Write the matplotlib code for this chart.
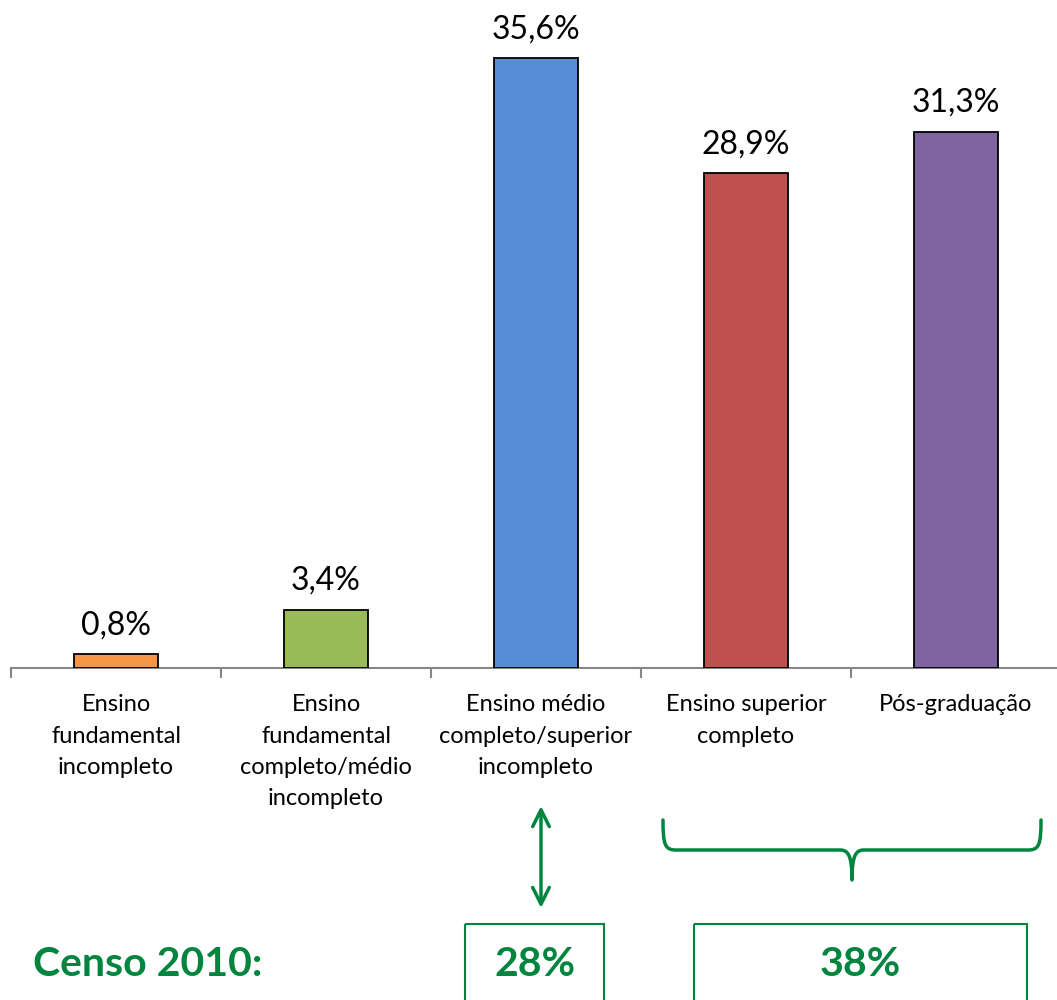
import matplotlib
matplotlib.use("Agg")
import matplotlib.pyplot as plt
from matplotlib.path import Path
from matplotlib.patches import PathPatch, Rectangle, FancyArrowPatch

plt.rcParams['font.family'] = ['Lato', 'DejaVu Sans']

categories = ["Ensino\nfundamental\nincompleto",
              "Ensino\nfundamental\ncompleto/médio\nincompleto",
              "Ensino médio\ncompleto/superior\nincompleto",
              "Ensino superior\ncompleto",
              "Pós-graduação"]
values = [0.8, 3.4, 35.6, 28.9, 31.3]
value_labels = ["0,8%", "3,4%", "35,6%", "28,9%", "31,3%"]
colors = ["#F79646", "#9BBB59", "#558ED5", "#C0504D", "#8064A2"]
census_title = "Censo 2010:"
census_values = ["28%", "38%"]

GREEN = "#00853F"
W, H = 1057, 1000
fig = plt.figure(figsize=(W / 100, H / 100), dpi=100)

ax = fig.add_axes([11 / W, 1 - 668 / H, 1050 / W, 660 / H])
x = list(range(len(values)))
bars = ax.bar(x, values, width=0.4, color=colors, edgecolor="black", linewidth=1.3, zorder=3)
for b, lab in zip(bars, value_labels):
    ax.annotate(lab, (b.get_x() + b.get_width() / 2, b.get_height()),
                xytext=(0, 10), textcoords="offset points",
                ha="center", va="bottom", fontsize=23, color="black")

ax.set_xlim(-0.5, len(values) - 0.5)
ax.set_ylim(0, 660 / 17.13)
for s in ["top", "right", "left"]:
    ax.spines[s].set_visible(False)
ax.spines["bottom"].set_color("#868686")
ax.spines["bottom"].set_linewidth(1.5)
ax.set_yticks([])
ax.set_xticks([i - 0.5 for i in range(len(values) + 1)])
ax.set_xticklabels([])
ax.tick_params(axis="x", which="major", length=7, width=1.5, color="#868686", direction="out")
ax.set_xticks(x, minor=True)
ax.set_xticklabels(categories, minor=True, fontsize=17, linespacing=1.6)
ax.tick_params(axis="x", which="minor", length=0, pad=19)

# annotation overlay in pixel coordinates
ov = fig.add_axes([0, 0, 1, 1])
ov.set_xlim(0, W)
ov.set_ylim(H, 0)
ov.axis("off")

ov.text(33, 965, census_title, fontsize=29.5, fontweight="bold", color=GREEN,
        ha="left", va="center")

ov.add_patch(Rectangle((465, 924), 139, 100, fill=False, edgecolor=GREEN, linewidth=1.5, clip_on=False))
ov.add_patch(Rectangle((694, 924), 333, 100, fill=False, edgecolor=GREEN, linewidth=1.5, clip_on=False))
ov.text(535, 965, census_values[0], fontsize=29.5, fontweight="bold", color=GREEN, ha="center", va="center")
ov.text(860, 965, census_values[1], fontsize=29.5, fontweight="bold", color=GREEN, ha="center", va="center")

ov.add_patch(FancyArrowPatch((541, 806), (541, 908), arrowstyle="<->,head_length=12,head_width=6",
                             color=GREEN, linewidth=2.5, mutation_scale=1, shrinkA=0, shrinkB=0))

verts = [(663, 820), (663, 845), (665, 850), (676, 850),
         (840, 850),
         (848, 850), (852, 855), (852, 880),
         (852, 855), (856, 850), (864, 850),
         (1028, 850),
         (1039, 850), (1041, 845), (1041, 820)]
codes = [Path.MOVETO, Path.CURVE4, Path.CURVE4, Path.CURVE4,
         Path.LINETO,
         Path.CURVE4, Path.CURVE4, Path.CURVE4,
         Path.CURVE4, Path.CURVE4, Path.CURVE4,
         Path.LINETO,
         Path.CURVE4, Path.CURVE4, Path.CURVE4]
ov.add_patch(PathPatch(Path(verts, codes), fill=False, edgecolor=GREEN, linewidth=2.5,
                       capstyle="round", joinstyle="round"))

fig.savefig("out.png", dpi=100)
